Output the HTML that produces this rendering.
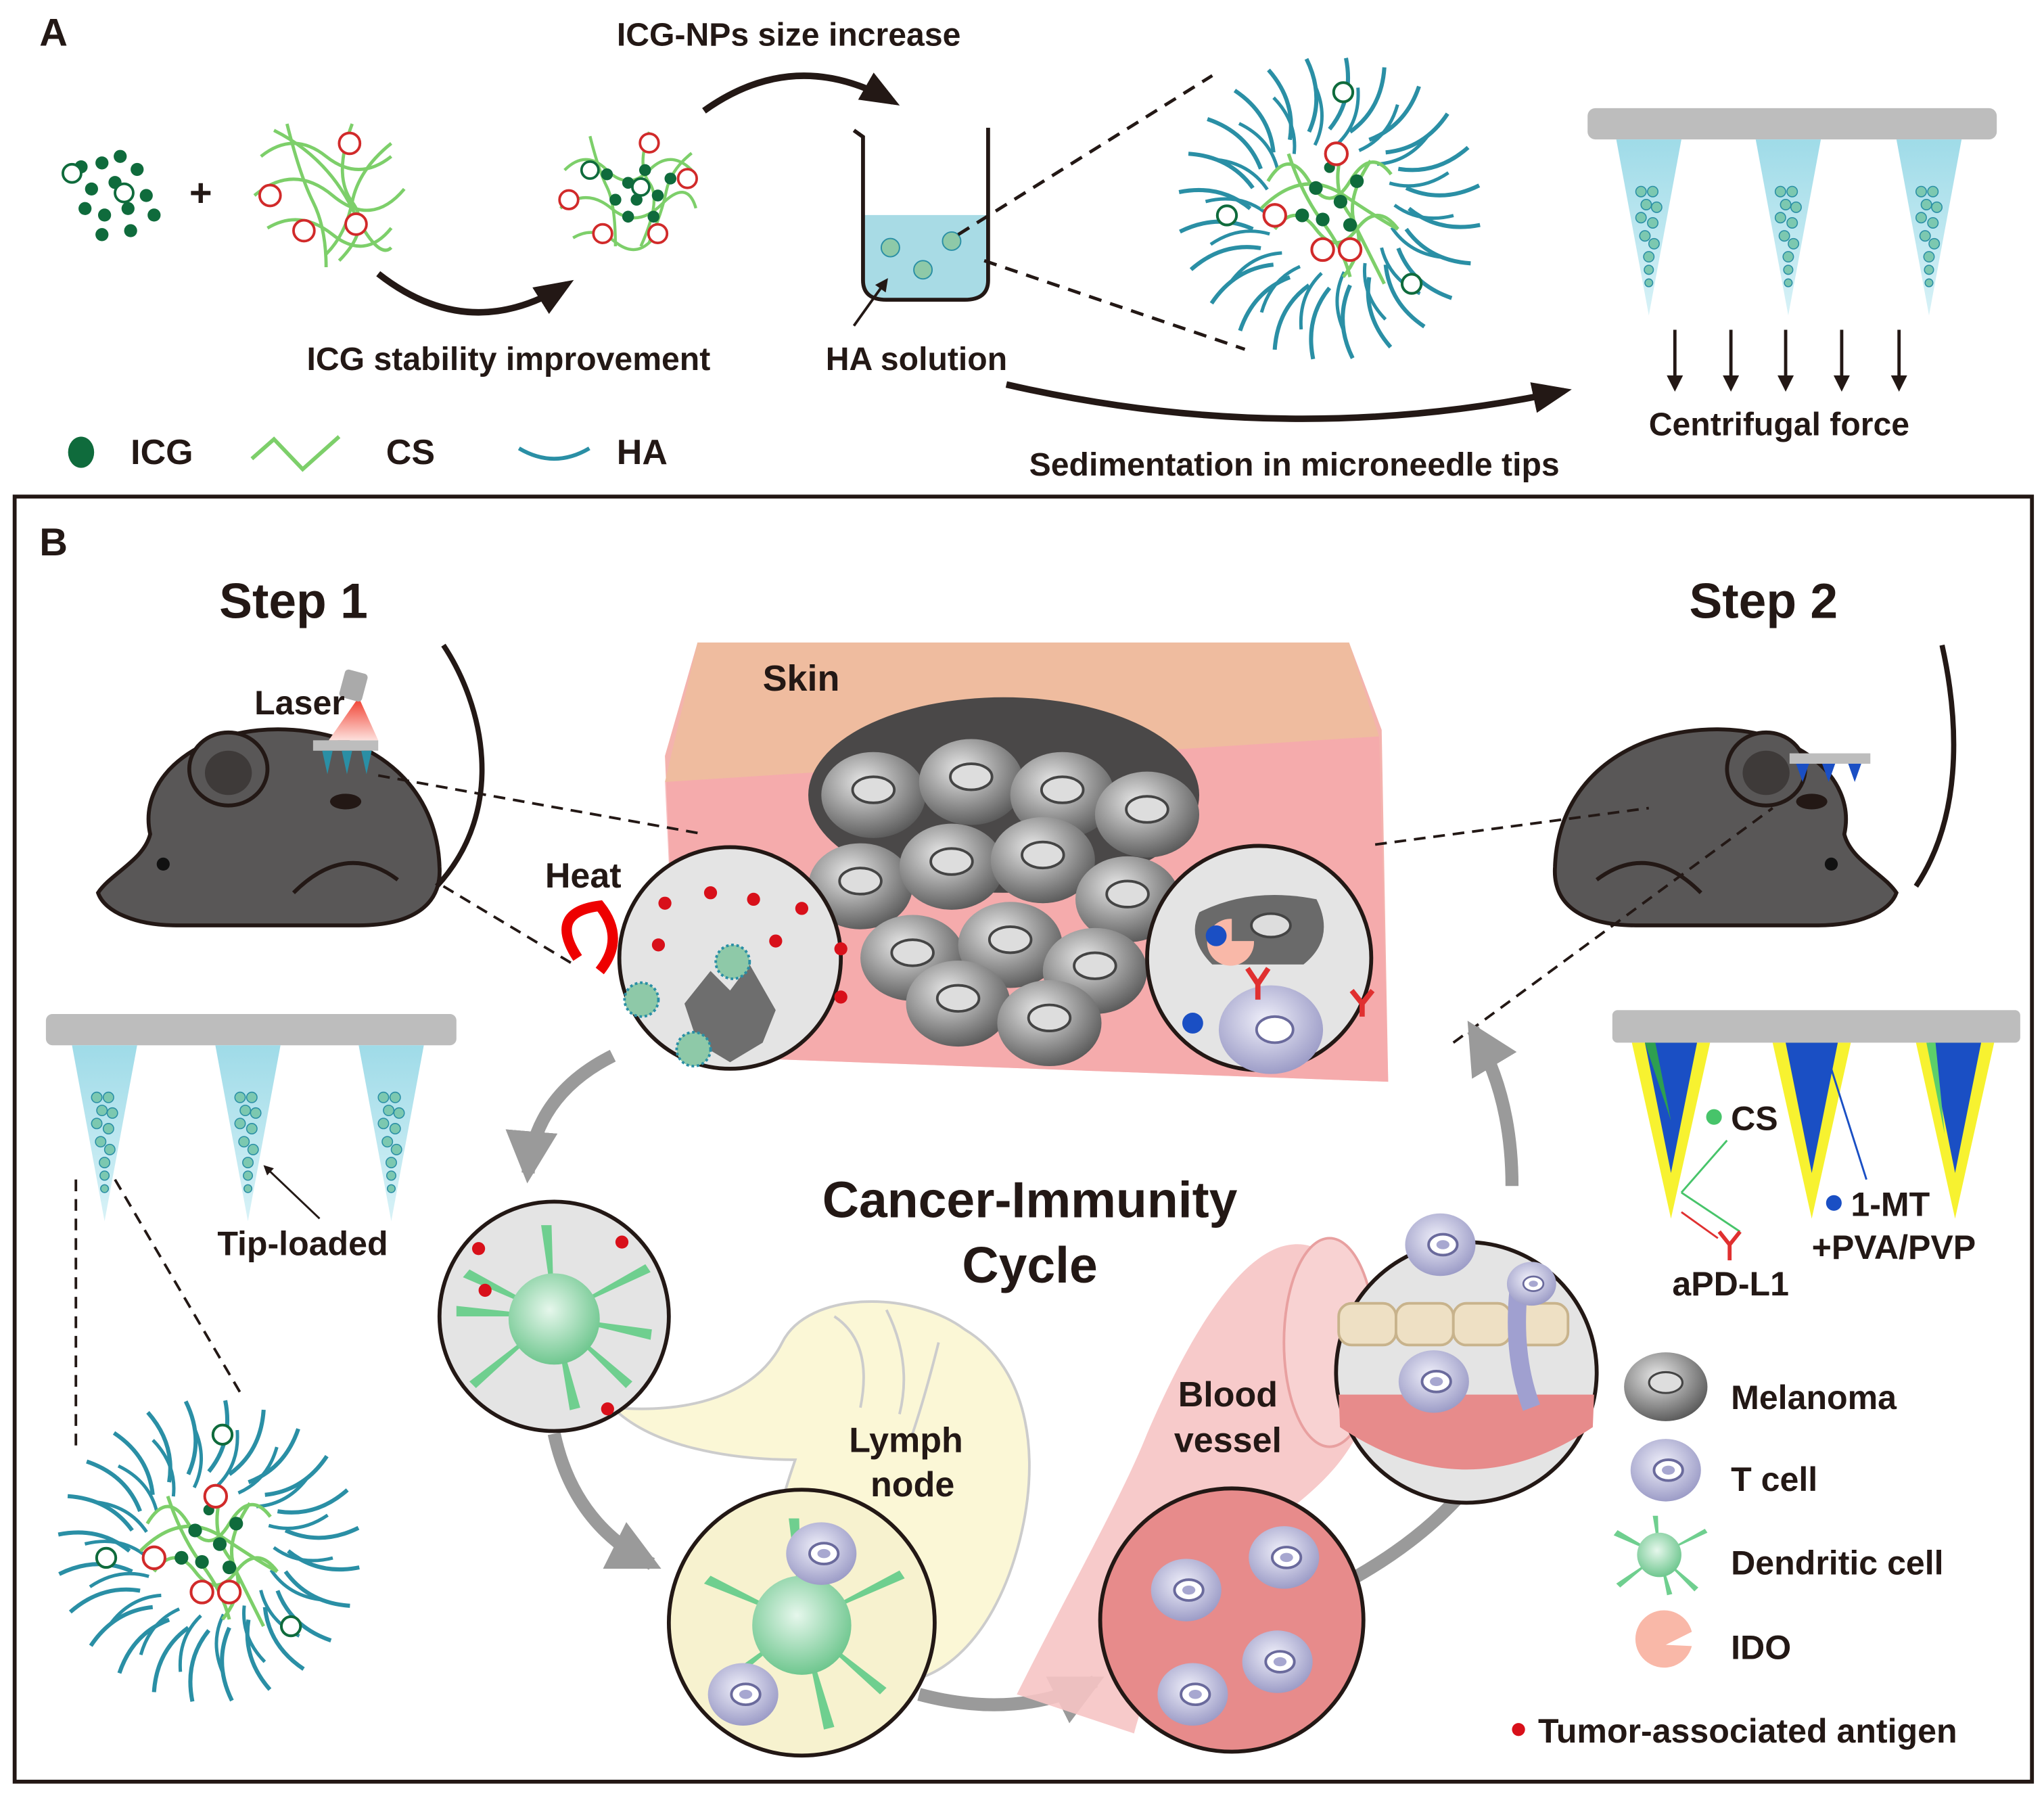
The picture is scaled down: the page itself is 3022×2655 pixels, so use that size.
<!DOCTYPE html>
<html><head><meta charset="utf-8"><style>
html,body{margin:0;padding:0;background:#fff}
svg{display:block}
text{font-family:"Liberation Sans",Arial,sans-serif;font-weight:bold;fill:#231815}
</style></head><body>
<svg width="3022" height="2655" viewBox="0 0 1568 1378" xmlns="http://www.w3.org/2000/svg">
<defs>
<marker id="ah" viewBox="0 0 10 10" refX="8" refY="5" markerWidth="5" markerHeight="5" orient="auto"><path d="M0,0L10,5L0,10z" fill="#231815"/></marker>
<marker id="ah2" viewBox="0 0 10 10" refX="8" refY="5" markerWidth="4" markerHeight="4" orient="auto"><path d="M0,0L10,5L0,10z" fill="#9a9a9a"/></marker>
<marker id="ah3" viewBox="0 0 10 10" refX="8" refY="5" markerWidth="6" markerHeight="6" orient="auto"><path d="M0,1L10,5L0,9z" fill="#231815"/></marker>
<radialGradient id="cellg" cx="0.4" cy="0.35" r="0.7"><stop offset="0" stop-color="#e8e8e8"/><stop offset="1" stop-color="#555"/></radialGradient>
<radialGradient id="tg" cx="0.45" cy="0.4" r="0.7"><stop offset="0" stop-color="#f0f0fa"/><stop offset="1" stop-color="#8f8fbf"/></radialGradient>
<radialGradient id="dg" cx="0.45" cy="0.4" r="0.7"><stop offset="0" stop-color="#e6f7ec"/><stop offset="1" stop-color="#5cbf80"/></radialGradient>
<linearGradient id="cone" x1="0" y1="0" x2="0" y2="1"><stop offset="0" stop-color="#9fdbe8"/><stop offset="1" stop-color="#d8f2f7"/></linearGradient>
<linearGradient id="laser" x1="0" y1="0" x2="0" y2="1"><stop offset="0" stop-color="#f03a2a"/><stop offset="1" stop-color="#fde0dc"/></linearGradient>
<path id="hs" d="M0,-58 q18,-22 12,-52" fill="none" stroke="#2a8fa5" stroke-width="3"/>
<g id="hair">
<use href="#hs"/><use href="#hs" transform="rotate(15)"/><use href="#hs" transform="rotate(30)"/><use href="#hs" transform="rotate(45)"/><use href="#hs" transform="rotate(60)"/><use href="#hs" transform="rotate(75)"/><use href="#hs" transform="rotate(90)"/><use href="#hs" transform="rotate(105)"/><use href="#hs" transform="rotate(120)"/><use href="#hs" transform="rotate(135)"/><use href="#hs" transform="rotate(150)"/><use href="#hs" transform="rotate(165)"/><use href="#hs" transform="rotate(180)"/><use href="#hs" transform="rotate(195)"/><use href="#hs" transform="rotate(210)"/><use href="#hs" transform="rotate(225)"/><use href="#hs" transform="rotate(240)"/><use href="#hs" transform="rotate(255)"/><use href="#hs" transform="rotate(270)"/><use href="#hs" transform="rotate(285)"/><use href="#hs" transform="rotate(300)"/><use href="#hs" transform="rotate(315)"/><use href="#hs" transform="rotate(330)"/><use href="#hs" transform="rotate(345)"/>
<g transform="rotate(7) scale(0.82)"><use href="#hs"/><use href="#hs" transform="rotate(20)"/><use href="#hs" transform="rotate(40)"/><use href="#hs" transform="rotate(60)"/><use href="#hs" transform="rotate(80)"/><use href="#hs" transform="rotate(100)"/><use href="#hs" transform="rotate(120)"/><use href="#hs" transform="rotate(140)"/><use href="#hs" transform="rotate(160)"/><use href="#hs" transform="rotate(180)"/><use href="#hs" transform="rotate(200)"/><use href="#hs" transform="rotate(220)"/><use href="#hs" transform="rotate(240)"/><use href="#hs" transform="rotate(260)"/><use href="#hs" transform="rotate(280)"/><use href="#hs" transform="rotate(300)"/><use href="#hs" transform="rotate(320)"/><use href="#hs" transform="rotate(340)"/></g>
</g>
<g id="np">
  <use href="#hair"/>
  <g fill="none" stroke="#7dcf6a" stroke-width="2.5">
    <path d="M-45,-20 q15,-25 30,0 t30,0 t30,-5"/><path d="M-40,15 q15,-20 30,0 t30,0 t30,0"/>
    <path d="M-30,-40 q10,30 25,50 t20,40"/><path d="M10,-45 q-10,30 5,50 t-5,45"/>
    <path d="M30,-35 q-20,30 -10,50 t20,40"/><path d="M-50,0 q30,-30 60,-10 t40,25"/>
  </g>
  <g fill="#0f6b3c"><circle cx="-10" cy="-15" r="5"/><circle cx="8" cy="-5" r="5"/><circle cx="-5" cy="8" r="5"/><circle cx="15" cy="12" r="5"/><circle cx="-20" cy="5" r="5"/><circle cx="20" cy="-20" r="5"/><circle cx="0" cy="-30" r="4"/></g>
  <g fill="#fff" stroke="#d12a2a" stroke-width="2"><circle cx="-40" cy="5" r="8"/><circle cx="-5" cy="30" r="8"/><circle cx="15" cy="30" r="8"/><circle cx="5" cy="-40" r="8"/></g>
  <g fill="#fff" stroke="#0f6b3c" stroke-width="2"><circle cx="-75" cy="5" r="7"/><circle cx="10" cy="-85" r="7"/><circle cx="60" cy="55" r="7"/></g>
</g>
<g id="mcone"><path d="M-25,0 L25,0 L0,135 z" fill="url(#cone)"/>
 <g fill="#7cc8b0" stroke="#2a8fa5" stroke-width="0.8"><circle cx="-6" cy="40" r="4"/><circle cx="3" cy="40" r="4"/><circle cx="-2" cy="50" r="4"/><circle cx="6" cy="52" r="4"/><circle cx="-6" cy="60" r="4"/><circle cx="3" cy="64" r="4"/><circle cx="-3" cy="74" r="4"/><circle cx="4" cy="80" r="4"/><circle cx="0" cy="90" r="4"/><circle cx="0" cy="100" r="3.5"/><circle cx="0" cy="110" r="3"/></g></g>
<g id="tcell"><ellipse cx="0" cy="0" rx="27" ry="24" fill="url(#tg)"/><ellipse cx="2" cy="0" rx="11" ry="8" fill="#fff" stroke="#6a6a9c" stroke-width="2"/><ellipse cx="2" cy="0" rx="5" ry="3.5" fill="#a7a7d0"/></g>
<g id="mel"><ellipse cx="0" cy="0" rx="40" ry="33" fill="url(#cellg)"/><ellipse cx="0" cy="-4" rx="16" ry="10" fill="#ddd" stroke="#444" stroke-width="2"/></g>
<g id="mouse">
  <path d="M40,95 C30,50 80,10 150,15 C215,20 260,60 262,120 C264,150 240,165 200,165 L60,165 C30,165 5,155 0,140 C10,125 35,115 40,95z" fill="#595757" stroke="#231815" stroke-width="3"/>
  <ellipse cx="100" cy="45" rx="30" ry="28" fill="#595757" stroke="#231815" stroke-width="3"/>
  <ellipse cx="100" cy="48" rx="18" ry="17" fill="#3e3a39"/>
  <circle cx="50" cy="118" r="5" fill="#111"/>
  <path d="M150,140 q40,-40 80,-10" fill="none" stroke="#231815" stroke-width="3"/>
</g>
</defs>

<!-- PANEL A -->
<text x="30" y="35" font-size="30">A</text>
<g fill="#0f6b3c"><circle cx="62" cy="128" r="5"/><circle cx="78" cy="125" r="5"/><circle cx="92" cy="120" r="5"/><circle cx="105" cy="130" r="5"/><circle cx="70" cy="145" r="5"/><circle cx="88" cy="140" r="5"/><circle cx="112" cy="150" r="5"/><circle cx="65" cy="160" r="5"/><circle cx="80" cy="165" r="5"/><circle cx="98" cy="160" r="5"/><circle cx="118" cy="165" r="5"/><circle cx="78" cy="180" r="5"/><circle cx="100" cy="177" r="5"/></g>
<g fill="#fff" stroke="#0f6b3c" stroke-width="2"><circle cx="55" cy="133" r="7"/><circle cx="95" cy="148" r="7"/></g>
<text x="145" y="158" font-size="30">+</text>
<g fill="none" stroke="#7dcf6a" stroke-width="2.5">
<path d="M200,120 q25,-20 50,0 t50,0"/><path d="M195,150 q30,-25 60,0 t55,-5"/><path d="M205,175 q25,-15 50,5 t45,-5"/><path d="M220,95 q10,40 20,60 t10,50"/><path d="M270,95 q-15,40 0,60 t-10,45"/><path d="M300,110 q-25,20 -30,45 t-20,40"/><path d="M210,100 q40,20 60,60 t30,30"/></g>
<g fill="#fff" stroke="#d12a2a" stroke-width="2"><circle cx="268" cy="110" r="8"/><circle cx="207" cy="150" r="8"/><circle cx="233" cy="177" r="8"/><circle cx="273" cy="172" r="8"/></g>
<g transform="translate(485,150) scale(0.65)">
<g fill="none" stroke="#7dcf6a" stroke-width="3.5"><path d="M-80,-30 q25,-25 50,0 t50,0 t50,0"/><path d="M-85,15 q30,-25 60,0 t60,-5 t40,5"/><path d="M-70,50 q25,-15 50,5 t45,-5"/><path d="M-50,-70 q10,40 20,60 t10,70"/><path d="M20,-75 q-15,40 0,60 t-10,75"/><path d="M70,-50 q-25,20 -30,45 t-20,60"/></g>
<g fill="#0f6b3c"><circle cx="-30" cy="-25" r="7"/><circle cx="-5" cy="-15" r="7"/><circle cx="15" cy="-30" r="7"/><circle cx="-20" cy="5" r="7"/><circle cx="5" cy="5" r="7"/><circle cx="30" cy="0" r="7"/><circle cx="-5" cy="25" r="7"/><circle cx="45" cy="-20" r="7"/><circle cx="25" cy="25" r="7"/></g>
<g fill="#fff" stroke="#d12a2a" stroke-width="3"><circle cx="20" cy="-62" r="11"/><circle cx="-75" cy="5" r="11"/><circle cx="-35" cy="45" r="11"/><circle cx="30" cy="45" r="11"/><circle cx="65" cy="-20" r="11"/></g>
<g fill="#fff" stroke="#0f6b3c" stroke-width="3"><circle cx="-50" cy="-30" r="10"/><circle cx="10" cy="-10" r="10"/></g>
</g>
<path d="M290,210 Q360,265 435,218" fill="none" stroke="#231815" stroke-width="5" marker-end="url(#ah3)"/>
<text x="390" y="284" font-size="25" text-anchor="middle">ICG stability improvement</text>
<path d="M540,85 Q610,35 685,78" fill="none" stroke="#231815" stroke-width="5" marker-end="url(#ah3)"/>
<text x="605" y="35" font-size="25" text-anchor="middle">ICG-NPs size increase</text>
<path d="M662,165 L662,215 Q662,230 680,230 L740,230 Q758,230 758,215 L758,165z" fill="#a8dbe5"/>
<path d="M655,100 L662,105 L662,215 Q662,230 680,230 L740,230 Q758,230 758,215 L758,98" fill="none" stroke="#231815" stroke-width="3"/>
<g fill="#8ec9a8" stroke="#2a8fa5" stroke-width="1"><circle cx="683" cy="190" r="7"/><circle cx="730" cy="185" r="7"/><circle cx="708" cy="207" r="7"/></g>
<path d="M655,250 L680,215" stroke="#231815" stroke-width="2" marker-end="url(#ah)"/>
<text x="703" y="284" font-size="25" text-anchor="middle">HA solution</text>
<path d="M735,180 L930,58 M755,200 L955,268" stroke="#231815" stroke-width="2.5" stroke-dasharray="10,7"/>
<use href="#np" transform="translate(1020,160) scale(1.05)"/>
<rect x="1218" y="83" width="314" height="24" rx="6" fill="#bdbdbd"/>
<use href="#mcone" transform="translate(1265,107)"/><use href="#mcone" transform="translate(1372,107)"/><use href="#mcone" transform="translate(1480,107)"/>
<g stroke="#231815" stroke-width="2.5" marker-end="url(#ah)"><path d="M1285,253 V298"/><path d="M1328,253 V298"/><path d="M1370,253 V298"/><path d="M1413,253 V298"/><path d="M1457,253 V298"/></g>
<text x="1365" y="334" font-size="25" text-anchor="middle">Centrifugal force</text>
<path d="M772,295 Q990,345 1200,300" fill="none" stroke="#231815" stroke-width="5" marker-end="url(#ah3)"/>
<text x="993" y="365" font-size="25" text-anchor="middle">Sedimentation in microneedle tips</text>
<ellipse cx="62" cy="347" rx="10" ry="12" fill="#0f6b3c"/>
<text x="100" y="356" font-size="27">ICG</text>
<path d="M193,352 L210,337 L232,360 L260,335" fill="none" stroke="#7dcf6a" stroke-width="3"/>
<text x="296" y="356" font-size="27">CS</text>
<path d="M398,344 Q425,360 452,344" fill="none" stroke="#2a8fa5" stroke-width="3"/>
<text x="473" y="356" font-size="27">HA</text>

<!-- PANEL B -->
<rect x="11" y="381" width="1548" height="986" fill="none" stroke="#231815" stroke-width="3"/>
<text x="30" y="426" font-size="30">B</text>
<text x="225" y="474" font-size="38" text-anchor="middle">Step 1</text>
<text x="1353" y="474" font-size="38" text-anchor="middle">Step 2</text>

<path d="M535,493 L1035,493 L1060,560 L1065,830 L520,810 L510,580z" fill="#f4b3ae"/>
<path d="M535,493 L1035,493 L1058,565 L510,600z" fill="#efbc9f"/>
<path d="M510,600 L1058,565 L1065,830 L520,810z" fill="#f5a8ab" opacity="0.7"/>
<text x="585" y="530" font-size="28">Skin</text>
<ellipse cx="770" cy="610" rx="150" ry="75" fill="#4a4848"/>
<g>
<use href="#mel" transform="translate(670,610)"/><use href="#mel" transform="translate(745,600)"/><use href="#mel" transform="translate(815,610)"/><use href="#mel" transform="translate(880,625)"/>
<use href="#mel" transform="translate(660,680)"/><use href="#mel" transform="translate(730,665)"/><use href="#mel" transform="translate(800,660)"/><use href="#mel" transform="translate(865,690)"/>
<use href="#mel" transform="translate(700,735)"/><use href="#mel" transform="translate(775,725)"/><use href="#mel" transform="translate(840,745)"/><use href="#mel" transform="translate(735,770)"/><use href="#mel" transform="translate(805,785)"/>
</g>

<use href="#mouse" transform="translate(75,545)"/>
<path d="M335,680 C390,620 370,540 340,495" fill="none" stroke="#231815" stroke-width="4"/>
<ellipse cx="265" cy="615" rx="12" ry="6" fill="#231815"/>
<rect x="240" y="568" width="50" height="8" fill="#bdbdbd"/>
<path d="M247,576l4,18l4,-18zM262,576l4,18l4,-18zM277,576l4,18l4,-18z" fill="#2a8fa5"/>
<path d="M252,568 L275,535 L290,568z" fill="url(#laser)"/>
<rect x="262" y="515" width="18" height="22" rx="3" fill="#aaa" transform="rotate(15 271 526)"/>
<text x="195" y="548" font-size="26">Laser</text>
<g transform="translate(1455,545) scale(-1,1)"><use href="#mouse"/></g>
<path d="M1470,680 C1510,620 1500,540 1490,495" fill="none" stroke="#231815" stroke-width="4"/>
<ellipse cx="1390" cy="615" rx="12" ry="6" fill="#231815"/>
<rect x="1373" y="578" width="62" height="8" fill="#bdbdbd"/>
<path d="M1378,586l5,14l5,-14zM1398,586l5,14l5,-14zM1418,586l5,14l5,-14z" fill="#1a4fc4"/>
<g stroke="#231815" stroke-width="2" stroke-dasharray="9,6" fill="none">
<path d="M290,595 L540,640"/><path d="M340,680 L440,740"/><path d="M1055,648 L1265,620"/><path d="M1115,800 L1360,620"/>
<path d="M58,905 L58,1110"/><path d="M88,905 L185,1070"/>
</g>

<g fill="none" stroke="#9a9a9a" stroke-width="10" marker-end="url(#ah2)">
<path d="M470,810 Q410,840 405,900"/>
<path d="M425,1100 Q440,1170 500,1200"/>
<path d="M705,1300 Q780,1320 840,1290"/>
<path d="M1040,1210 Q1110,1170 1145,1115"/>
<path d="M1160,910 Q1160,840 1130,790"/>
</g>
<text x="790" y="934" font-size="39" text-anchor="middle">Cancer-Immunity</text>
<text x="790" y="984" font-size="39" text-anchor="middle">Cycle</text>

<path d="M600,1030 C620,990 700,990 740,1020 C790,1050 800,1120 780,1190 C760,1260 720,1290 690,1290 L620,1250 C580,1200 600,1150 610,1120 C560,1120 500,1110 470,1080 C530,1085 580,1070 600,1030z" fill="#fbf7d6" stroke="#ccc" stroke-width="2"/>
<path d="M640,1010 q30,20 20,70 M680,1005 q20,40 10,80 M720,1030 q-10,40 -20,70" fill="none" stroke="#ccc" stroke-width="2"/>
<text x="695" y="1114" font-size="27" text-anchor="middle">Lymph</text>
<text x="700" y="1148" font-size="27" text-anchor="middle">node</text>
<path d="M990,955 C1020,950 1060,990 1055,1050 C1050,1120 1000,1150 960,1180 C910,1230 880,1290 870,1330 L780,1300 C820,1220 860,1150 880,1100 C910,1030 950,960 990,955z" fill="#f6c4c4" opacity="0.9"/>
<ellipse cx="1020" cy="1030" rx="35" ry="80" fill="#f8d2d2" stroke="#e8a0a0" stroke-width="2"/>
<text x="942" y="1079" font-size="27" text-anchor="middle">Blood</text>
<text x="942" y="1114" font-size="27" text-anchor="middle">vessel</text>

<g stroke="#231815" stroke-width="3">
<circle cx="560" cy="735" r="85" fill="#e4e4e4"/>
<circle cx="966" cy="735" r="86" fill="#e4e4e4"/>
<circle cx="425" cy="1010" r="88" fill="#e4e4e4"/>
<circle cx="615" cy="1245" r="102" fill="#f7f2cf"/>
<circle cx="945" cy="1243" r="101" fill="#e78b8b"/>
<circle cx="1125" cy="1053" r="100" fill="#e4e4e4"/>
</g>
<path d="M525,770 L545,745 L560,760 L575,740 L595,775 L585,800 L560,815 L535,800z" fill="#6e6e6e"/>
<g fill="#d8101a"><circle cx="510" cy="693" r="5"/><circle cx="545" cy="685" r="5"/><circle cx="578" cy="690" r="5"/><circle cx="615" cy="697" r="5"/><circle cx="505" cy="725" r="5"/><circle cx="595" cy="722" r="5"/><circle cx="645" cy="728" r="5"/><circle cx="645" cy="765" r="5"/></g>
<g fill="#8ec9a8" stroke="#2a8fa5" stroke-width="2" stroke-dasharray="2,2"><circle cx="492" cy="767" r="13"/><circle cx="562" cy="738" r="13"/><circle cx="532" cy="805" r="13"/></g>
<path d="M443,735 Q420,700 460,695 Q480,720 460,745" fill="none" stroke="#e00" stroke-width="8"/>
<text x="418" y="681" font-size="27">Heat</text>
<path d="M920,700 Q960,680 1010,690 Q1025,720 1000,740 L930,740 Q910,720 920,700z" fill="#6a6a6a"/>
<ellipse cx="975" cy="710" rx="15" ry="9" fill="#ddd" stroke="#444" stroke-width="2"/>
<path d="M945,705 A18,18 0 1 0 962,722 L945,722z" fill="#f9b8a8"/>
<circle cx="933" cy="718" r="8" fill="#1a4fc4"/>
<circle cx="915" cy="785" r="8" fill="#1a4fc4"/>
<ellipse cx="975" cy="790" rx="40" ry="34" fill="url(#tg)"/><ellipse cx="978" cy="790" rx="14" ry="10" fill="#fff" stroke="#6a6a9c" stroke-width="2"/>
<path d="M965,755 l-8,-12 M965,755 l8,-12 M965,755 v12 M1045,770 l-8,-10 M1045,770 l8,-10 M1045,770 v10" stroke="#e03030" stroke-width="4"/>
<g fill="#6fcf8f"><path d="M425,1010 l-70,-30 l5,-6z M425,1010 l-60,55 l-5,-5z M425,1010 l70,-40 l4,6z M425,1010 l60,50 l-5,5z M425,1010 l-10,-70 l8,0z M425,1010 l20,70 l-8,2z M425,1010 l-75,0 l0,-8z M425,1010 l75,10 l-1,8z"/></g>
<circle cx="425" cy="1012" r="35" fill="url(#dg)"/>
<g fill="#d8101a"><circle cx="367" cy="958" r="5"/><circle cx="477" cy="953" r="5"/><circle cx="372" cy="990" r="5"/><circle cx="466" cy="1081" r="5"/></g>
<g fill="#6fcf8f"><path d="M615,1245 l-75,-30 l5,-6z M615,1245 l-65,55 l-5,-5z M615,1245 l75,-40 l4,6z M615,1245 l65,50 l-5,5z M615,1245 l-10,-80 l8,0z M615,1245 l25,80 l-8,2z"/></g>
<circle cx="615" cy="1247" r="38" fill="url(#dg)"/>
<use href="#tcell" transform="translate(630,1192)"/><use href="#tcell" transform="translate(570,1300)"/>
<use href="#tcell" transform="translate(910,1220)"/><use href="#tcell" transform="translate(985,1195)"/><use href="#tcell" transform="translate(980,1275)"/><use href="#tcell" transform="translate(915,1300)"/>
<path d="M1027,1070 L1223,1070 L1222,1095 Q1125,1160 1028,1095z" fill="#e78b8b"/>
<g fill="#eee0c4" stroke="#c8b38c" stroke-width="2"><rect x="1027" y="1000" width="44" height="32" rx="10"/><rect x="1071" y="1000" width="44" height="32" rx="10"/><rect x="1115" y="1000" width="44" height="32" rx="10"/><rect x="1159" y="1000" width="44" height="32" rx="10"/></g>
<use href="#tcell" transform="translate(1105,955)"/><use href="#tcell" transform="translate(1100,1060)"/>
<path d="M1165,990 Q1160,1040 1175,1080" stroke="#a0a0d0" stroke-width="14" fill="none"/>
<use href="#tcell" transform="translate(1175,985) scale(0.7)"/>

<rect x="35" y="778" width="315" height="24" rx="5" fill="#bdbdbd"/>
<use href="#mcone" transform="translate(80,802)"/><use href="#mcone" transform="translate(190,802)"/><use href="#mcone" transform="translate(300,802)"/>
<path d="M245,935 L203,895" stroke="#231815" stroke-width="1.5" marker-end="url(#ah)"/>
<text x="232" y="963" font-size="26" text-anchor="middle">Tip-loaded</text>
<use href="#np" transform="translate(160,1190) scale(1.05)"/>

<rect x="1237" y="775" width="313" height="25" rx="4" fill="#bdbdbd"/>
<g>
<path d="M1252,800 L1312,800 L1282,935z" fill="#f7f230"/><path d="M1262,800 L1302,800 L1282,900z" fill="#1a4fc4"/><path d="M1262,800 L1270,800 L1282,860z" fill="#2e9f50"/>
<path d="M1360,800 L1420,800 L1390,935z" fill="#f7f230"/><path d="M1370,800 L1410,800 L1390,900z" fill="#1a4fc4"/>
<path d="M1470,800 L1530,800 L1500,935z" fill="#f7f230"/><path d="M1480,800 L1520,800 L1500,900z" fill="#1a4fc4"/><path d="M1478,800 L1485,800 L1492,870z" fill="#5ccf6a"/>
</g>
<path d="M1290,915 L1325,875 M1290,915 L1335,945" stroke="#47c46a" stroke-width="1.5"/>
<path d="M1290,930 L1318,950" stroke="#e03030" stroke-width="1.5"/>
<path d="M1405,820 L1432,905" stroke="#1a4fc4" stroke-width="1.5"/>
<circle cx="1315" cy="857" r="6" fill="#47c46a"/>
<text x="1328" y="867" font-size="26">CS</text>
<path d="M1327,955 l-8,-10 M1327,955 l8,-10 M1327,955 v12" stroke="#e03030" stroke-width="3"/>
<text x="1283" y="994" font-size="26">aPD-L1</text>
<circle cx="1407" cy="923" r="6" fill="#1a4fc4"/>
<text x="1420" y="933" font-size="26">1-MT</text>
<text x="1390" y="966" font-size="26">+PVA/PVP</text>

<use href="#mel" transform="translate(1278,1064) scale(0.8)"/>
<text x="1328" y="1081" font-size="26">Melanoma</text>
<use href="#tcell" transform="translate(1278,1128)"/>
<text x="1328" y="1144" font-size="26">T cell</text>
<g fill="#6fcf8f" transform="translate(1273,1193)"><path d="M0,0 l-35,-15 l3,-4z M0,0 l-30,25 l-3,-3z M0,0 l35,-20 l2,3z M0,0 l30,25 l-3,3z M0,0 l-5,-30 l4,0z M0,0 l10,30 l-4,1z"/><circle r="17" fill="url(#dg)"/></g>
<text x="1328" y="1208" font-size="26">Dendritic cell</text>
<path d="M1298,1263 A22,22 0 1 1 1298,1252 L1278,1262z" fill="#f9b8a8"/>
<text x="1328" y="1273" font-size="26">IDO</text>
<circle cx="1165" cy="1327" r="5" fill="#d8101a"/>
<text x="1180" y="1337" font-size="26">Tumor-associated antigen</text>
</svg>
</body></html>
